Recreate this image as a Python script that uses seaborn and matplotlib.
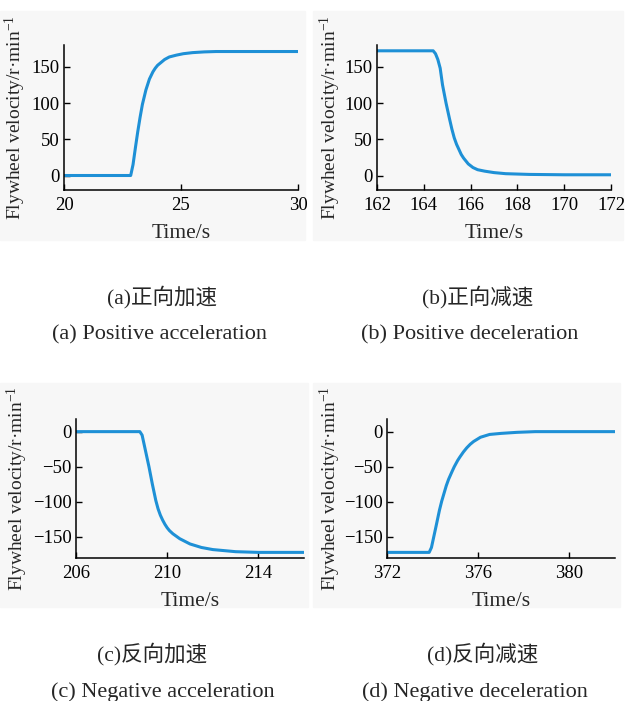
import matplotlib
matplotlib.use("Agg")
import matplotlib.pyplot as plt
import seaborn as sns
from matplotlib.patches import Rectangle

# Data (time in s, flywheel velocity in r/min)
t_a = [20, 22.85, 22.95, 23.05, 23.15, 23.25, 23.35, 23.5, 23.65, 23.8, 23.9, 24.0,
       24.15, 24.3, 24.5, 24.8, 25.1, 25.5, 26.0, 26.5, 27.5, 30]
v_a = [0, 0, 15, 38, 60, 80, 98, 118, 133, 143, 148, 152,
       156, 160, 163.5, 166, 168, 169.5, 170.5, 171, 171, 171]

t_b = [162, 164.4, 164.5, 164.6, 164.7, 164.8, 164.95, 165.1, 165.2, 165.3, 165.4, 165.5,
       165.6, 165.7, 165.9, 166.1, 166.3, 166.6, 167, 167.5, 168.5, 170, 172]
v_b = [172, 172, 168, 160, 148, 125, 100, 78, 64, 52, 43, 36,
       29, 24, 16, 11, 8, 6, 4, 2.5, 1.5, 1, 1]

t_c = [206, 208.8, 208.9, 209.0, 209.1, 209.2, 209.35, 209.5, 209.6, 209.7, 209.8, 209.9,
       210.0, 210.1, 210.25, 210.4, 210.55, 210.7, 211.0, 211.5, 212, 213, 214, 216]
v_c = [0, 0, -5, -20, -35, -50, -75, -98, -110, -119, -126, -132,
       -137, -141, -145.5, -149, -152.5, -155, -160, -165, -168, -171, -172, -172]

t_d = [372, 373.85, 373.95, 374.05, 374.15, 374.3, 374.4, 374.5, 374.6, 374.7, 374.85, 374.95,
       375.1, 375.2, 375.35, 375.5, 375.65, 375.8, 376.1, 376.5, 377, 377.7, 378.5, 380, 382]
v_d = [-172, -172, -165, -150, -135, -112, -99, -88, -77, -68, -57, -50,
       -41, -36, -29, -23, -18, -14, -8, -4, -2.5, -1, 0, 0, 0]

xticks_a = [20, 25, 30]
xticks_b = [162, 164, 166, 168, 170, 172]
xticks_c = [206, 210, 214]
xticks_d = [372, 376, 380]
yticks_pos = [0, 50, 100, 150]
yticks_neg = [0, -50, -100, -150]

cap_cn = ["(a)正向加速", "(b)正向减速", "(c)反向加速", "(d)反向减速"]
cap_en = ["(a) Positive acceleration", "(b) Positive deceleration",
          "(c) Negative acceleration", "(d) Negative deceleration"]

sns.set_style("ticks")
plt.rcParams["font.family"] = ["Liberation Serif", "Noto Sans CJK SC"]
plt.rcParams["mathtext.fontset"] = "custom"
plt.rcParams["mathtext.rm"] = "Liberation Serif"
plt.rcParams["mathtext.it"] = "Liberation Serif"

W, H = 626, 701
fig = plt.figure(figsize=(W / 100, H / 100), dpi=100)
fig.patch.set_facecolor("white")

# faint grey panels behind each subplot
for (x0, y0, x1, y1) in [(0, 11, 305, 240), (313, 11, 623, 240),
                         (0, 383, 308, 607), (313, 383, 620, 607)]:
    fig.patches.append(Rectangle((x0 / W, 1 - y1 / H), (x1 - x0) / W, (y1 - y0) / H,
                                 transform=fig.transFigure, color="#f7f7f7", zorder=-10))

def px_axes(l, r, t, b):
    ax = fig.add_axes([l / W, 1 - b / H, (r - l) / W, (b - t) / H])
    ax.set_zorder(5)
    return ax

panels = [
    (px_axes(64, 298, 45, 190), t_a, v_a, (20, 30), (-20, 180), xticks_a, yticks_pos, 15),
    (px_axes(377, 611, 45, 190), t_b, v_b, (162, 172), (-20, 180), xticks_b, yticks_pos, 330),
    (px_axes(76, 304, 419, 558), t_c, v_c, (206, 216), (-180, 18), xticks_c, yticks_neg, 17),
    (px_axes(387, 615, 419, 558), t_d, v_d, (372, 382), (-180, 18), xticks_d, yticks_neg, 330),
]

color = "#1e90d6"
for ax, t, v, xl, yl, xt, yt, lab_x in panels:
    ax.set_facecolor("none")
    sns.lineplot(x=t, y=v, ax=ax, color=color, linewidth=2.2, estimator=None, sort=False)
    ax.set_xlim(*xl)
    ax.set_ylim(*yl)
    ax.set_xticks(xt)
    ax.set_yticks(yt)
    for s in ["top", "right"]:
        ax.spines[s].set_visible(False)
    for s in ["left", "bottom"]:
        ax.spines[s].set_color("black")
        ax.spines[s].set_linewidth(1.1)
    ax.tick_params(direction="in", length=4, width=1, labelsize=13.5, colors="black")
    ax.tick_params(axis="x", pad=5)
    ax.tick_params(axis="y", pad=3)
    ax.set_xlabel("Time/s", fontsize=15.5)
    ax.set_ylabel("Flywheel velocity/r·min$^{-1}$", fontsize=14)
    pos = ax.get_position()
    l_px = pos.x0 * W
    w_px = pos.width * W
    h_px = pos.height * H
    ax.yaxis.set_label_coords((lab_x - l_px) / w_px, 0.5)
    ax.yaxis.label.set_va("center")
    ax.xaxis.set_label_coords(0.5, -44 / h_px)
    ax.xaxis.label.set_va("center")

# captions
cn_pos = [(162, 297), (478, 297), (152, 654), (483, 654)]
en_pos = [(159, 335), (470, 335), (163, 692), (475, 692)]
for txt, (x, y) in zip(cap_cn, cn_pos):
    fig.text(x / W, 1 - y / H, txt, ha="center", va="center", fontsize=15.5)
for txt, (x, y) in zip(cap_en, en_pos):
    fig.text(x / W, 1 - y / H, txt, ha="center", va="center", fontsize=16)

fig.savefig("out.png", dpi=100)
